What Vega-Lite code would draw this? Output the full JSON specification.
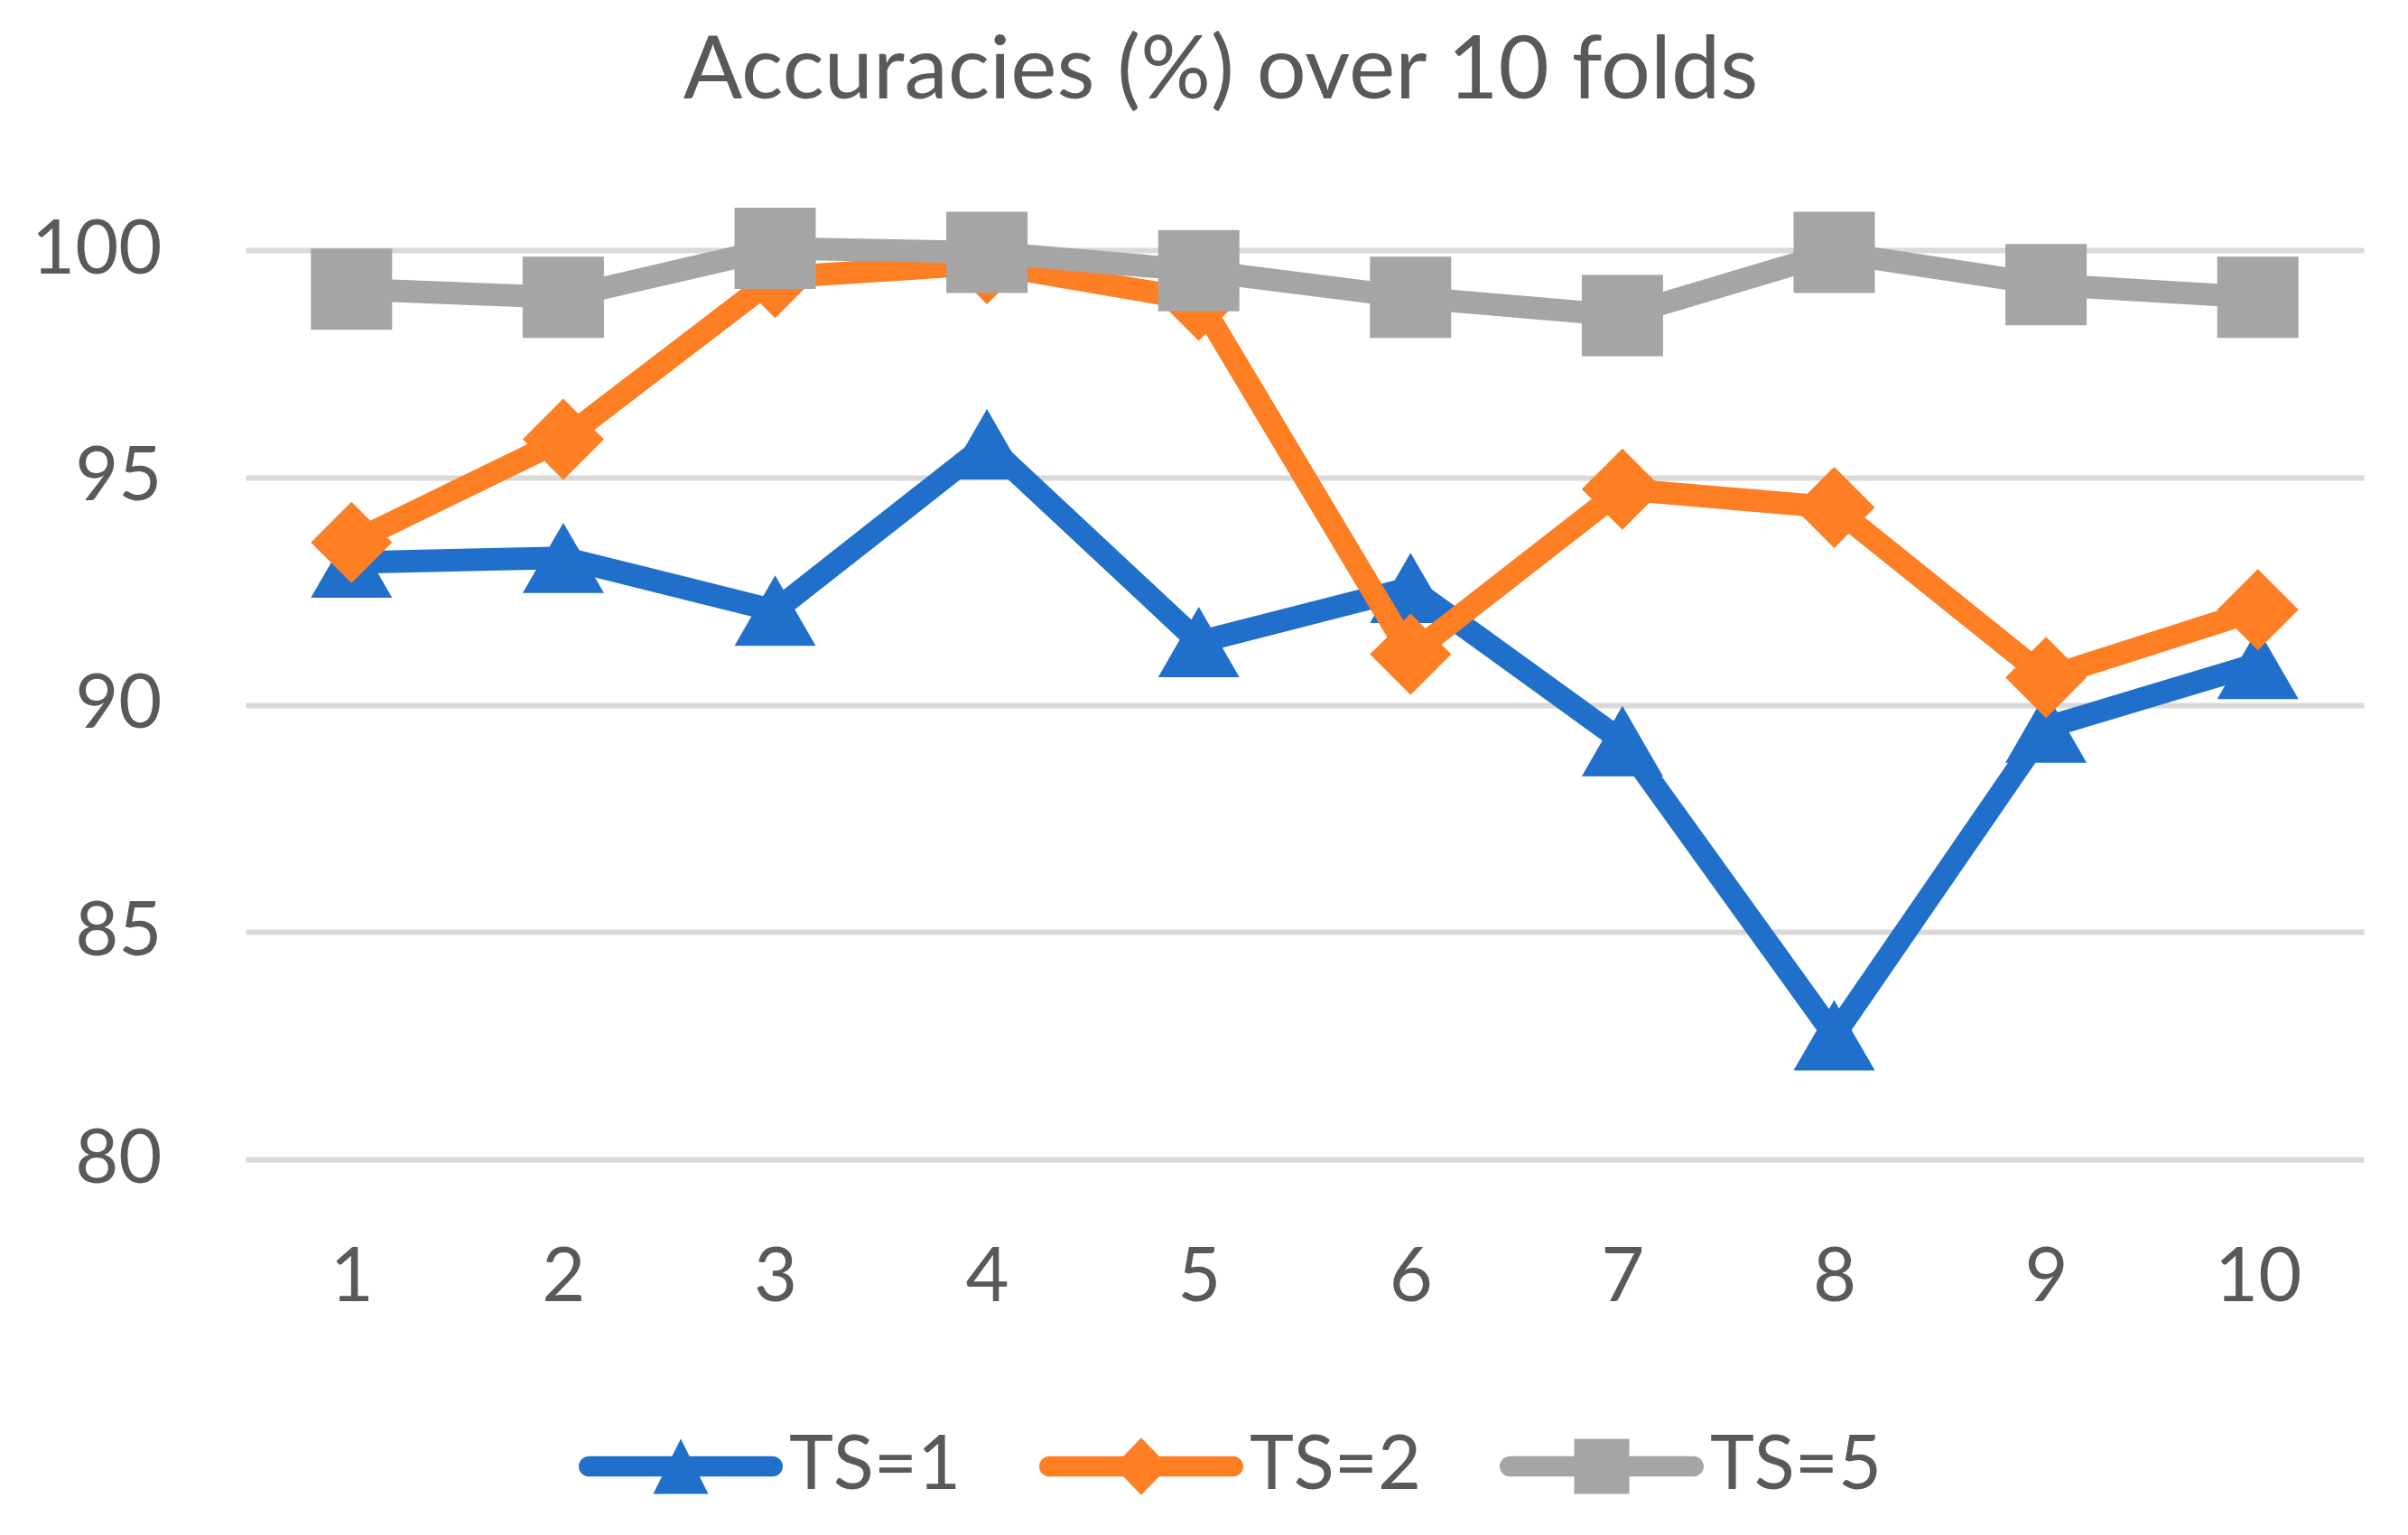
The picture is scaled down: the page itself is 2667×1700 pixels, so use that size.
{
  "$schema": "https://vega.github.io/schema/vega-lite/v6.json",
  "width": 2346,
  "height": 1007,
  "autosize": {"type": "none"},
  "padding": {"left": 272, "top": 277, "right": 49, "bottom": 416},
  "background": "white",
  "title": {
    "text": "Accuracies (%) over 10 folds",
    "font": "Lato",
    "fontSize": 97,
    "fontWeight": "normal",
    "color": "#595959",
    "anchor": "middle",
    "dx": -93,
    "offset": 101
  },
  "config": {"view": {"stroke": null}, "font": "Lato"},
  "data": {
    "values": [
      {"fold": "1", "series": "TS=1", "acc": 93.13},
      {"fold": "2", "series": "TS=1", "acc": 93.23},
      {"fold": "3", "series": "TS=1", "acc": 92.07},
      {"fold": "4", "series": "TS=1", "acc": 95.73},
      {"fold": "5", "series": "TS=1", "acc": 91.38},
      {"fold": "6", "series": "TS=1", "acc": 92.57},
      {"fold": "7", "series": "TS=1", "acc": 89.2},
      {"fold": "8", "series": "TS=1", "acc": 82.73},
      {"fold": "9", "series": "TS=1", "acc": 89.5},
      {"fold": "10", "series": "TS=1", "acc": 90.9},
      {"fold": "1", "series": "TS=2", "acc": 93.57},
      {"fold": "2", "series": "TS=2", "acc": 95.84},
      {"fold": "3", "series": "TS=2", "acc": 99.4},
      {"fold": "4", "series": "TS=2", "acc": 99.7},
      {"fold": "5", "series": "TS=2", "acc": 98.9},
      {"fold": "6", "series": "TS=2", "acc": 91.11},
      {"fold": "7", "series": "TS=2", "acc": 94.74},
      {"fold": "8", "series": "TS=2", "acc": 94.34},
      {"fold": "9", "series": "TS=2", "acc": 90.6},
      {"fold": "10", "series": "TS=2", "acc": 92.09},
      {"fold": "1", "series": "TS=5", "acc": 99.14},
      {"fold": "2", "series": "TS=5", "acc": 98.96},
      {"fold": "3", "series": "TS=5", "acc": 100.04},
      {"fold": "4", "series": "TS=5", "acc": 99.95},
      {"fold": "5", "series": "TS=5", "acc": 99.55},
      {"fold": "6", "series": "TS=5", "acc": 98.96},
      {"fold": "7", "series": "TS=5", "acc": 98.56},
      {"fold": "8", "series": "TS=5", "acc": 99.95},
      {"fold": "9", "series": "TS=5", "acc": 99.24},
      {"fold": "10", "series": "TS=5", "acc": 98.96}
    ]
  },
  "encoding": {
    "x": {
      "field": "fold",
      "type": "ordinal",
      "sort": null,
      "scale": {"padding": 0.5},
      "axis": {
        "title": null,
        "labelAngle": 0,
        "labelFontSize": 83,
        "labelFont": "Lato",
        "labelColor": "#595959",
        "labelPadding": 90,
        "ticks": false,
        "domain": false,
        "grid": false
      }
    },
    "y": {
      "field": "acc",
      "type": "quantitative",
      "scale": {"domain": [80, 100], "nice": false, "zero": false},
      "axis": {
        "title": null,
        "values": [80, 85, 90, 95, 100],
        "labelFontSize": 83,
        "labelFont": "Lato",
        "labelColor": "#595959",
        "labelPadding": 93,
        "ticks": false,
        "domain": false,
        "gridColor": "#d9d9d9",
        "gridWidth": 6
      }
    },
    "color": {
      "field": "series",
      "type": "nominal",
      "scale": {"domain": ["TS=1", "TS=2", "TS=5"], "range": ["#1F6FCB", "#FD7E23", "#A5A5A5"]},
      "legend": {
        "orient": "none",
        "direction": "horizontal",
        "legendX": 369,
        "legendY": 1234,
        "title": null,
        "padding": 0,
        "labelFontSize": 83,
        "labelFont": "Lato",
        "labelColor": "#595959",
        "labelOffset": 7,
        "labelLimit": 600,
        "columnPadding": 86,
        "symbolSize": 51076,
        "symbolOpacity": 1,
        "symbolStrokeWidth": 0
      }
    }
  },
  "layer": [
    {
      "transform": [{"filter": "datum.series === 'TS=1'"}],
      "mark": {"type": "line", "strokeWidth": 25, "strokeJoin": "round", "strokeCap": "round", "clip": false}
    },
    {
      "transform": [{"filter": "datum.series === 'TS=1'"}],
      "mark": {"type": "point", "shape": "triangle-up", "filled": true, "size": 8100, "opacity": 1, "clip": false}
    },
    {
      "transform": [{"filter": "datum.series === 'TS=2'"}],
      "mark": {"type": "line", "strokeWidth": 25, "strokeJoin": "round", "strokeCap": "round", "clip": false}
    },
    {
      "transform": [{"filter": "datum.series === 'TS=2'"}],
      "mark": {"type": "point", "shape": "diamond", "filled": true, "size": 8100, "opacity": 1, "clip": false}
    },
    {
      "transform": [{"filter": "datum.series === 'TS=5'"}],
      "mark": {"type": "line", "strokeWidth": 25, "strokeJoin": "round", "strokeCap": "round", "clip": false}
    },
    {
      "transform": [{"filter": "datum.series === 'TS=5'"}],
      "mark": {"type": "point", "shape": "square", "filled": true, "size": 8100, "opacity": 1, "clip": false}
    },
    {
      "mark": {"type": "point", "filled": true, "size": 100, "opacity": 0, "clip": false},
      "encoding": {
        "shape": {
          "field": "series",
          "type": "nominal",
          "scale": {
            "domain": ["TS=1", "TS=2", "TS=5"],
            "range": [
              "M-0.9,-0.1L0.9,-0.1A0.1,0.1 0 0 1 0.9,0.1L-0.9,0.1A0.1,0.1 0 0 1 -0.9,-0.1Z M0,-0.27L0.27,0.27L-0.27,0.27Z",
              "M-0.9,-0.1L0.9,-0.1A0.1,0.1 0 0 1 0.9,0.1L-0.9,0.1A0.1,0.1 0 0 1 -0.9,-0.1Z M0,-0.28L0.27,0L0,0.28L-0.27,0Z",
              "M-0.9,-0.1L0.9,-0.1A0.1,0.1 0 0 1 0.9,0.1L-0.9,0.1A0.1,0.1 0 0 1 -0.9,-0.1Z M-0.27,-0.27L0.27,-0.27L0.27,0.27L-0.27,0.27Z"
            ]
          },
          "legend": {
            "orient": "none",
            "direction": "horizontal",
            "legendX": 369,
            "legendY": 1234,
            "title": null,
            "padding": 0,
            "labelFontSize": 83,
            "labelFont": "Lato",
            "labelColor": "#595959",
            "labelOffset": 7,
            "labelLimit": 600,
            "columnPadding": 86,
            "symbolSize": 51076,
            "symbolOpacity": 1,
            "symbolStrokeWidth": 0
          }
        }
      }
    }
  ]
}
